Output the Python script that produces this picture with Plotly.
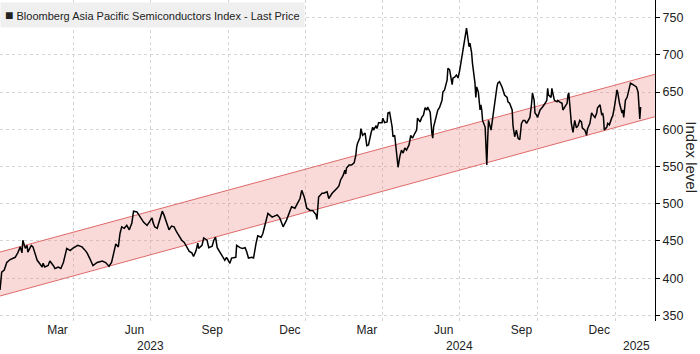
import plotly.graph_objects as go

# ---- data ----
price_dates = [
    "2023-01-04", "2023-01-06", "2023-01-09", "2023-01-12", "2023-01-16", "2023-01-22", "2023-01-25",
    "2023-01-28", "2023-01-30", "2023-01-31", "2023-02-03", "2023-02-05", "2023-02-06", "2023-02-10",
    "2023-02-12", "2023-02-14", "2023-02-17", "2023-02-19", "2023-02-23", "2023-02-24", "2023-02-26",
    "2023-03-02", "2023-03-04", "2023-03-08", "2023-03-10", "2023-03-14", "2023-03-17", "2023-03-20",
    "2023-03-22", "2023-03-24", "2023-03-28", "2023-03-31", "2023-04-06", "2023-04-11", "2023-04-15",
    "2023-04-17", "2023-04-20", "2023-04-24", "2023-04-29", "2023-05-05", "2023-05-09", "2023-05-13",
    "2023-05-16", "2023-05-19", "2023-05-21", "2023-05-24", "2023-05-26", "2023-05-28", "2023-05-31",
    "2023-06-03", "2023-06-06", "2023-06-09", "2023-06-11", "2023-06-15", "2023-06-17", "2023-06-21",
    "2023-06-23", "2023-06-27", "2023-06-29", "2023-07-03", "2023-07-04", "2023-07-06", "2023-07-09",
    "2023-07-11", "2023-07-15", "2023-07-17", "2023-07-20", "2023-07-23", "2023-07-26", "2023-07-29",
    "2023-08-01", "2023-08-04", "2023-08-07", "2023-08-10", "2023-08-13", "2023-08-16", "2023-08-19",
    "2023-08-21", "2023-08-24", "2023-08-26", "2023-08-27", "2023-08-31", "2023-09-02", "2023-09-06",
    "2023-09-08", "2023-09-12", "2023-09-14", "2023-09-16", "2023-09-18", "2023-09-21", "2023-09-25",
    "2023-09-27", "2023-09-29", "2023-10-03", "2023-10-05", "2023-10-08", "2023-10-10", "2023-10-11",
    "2023-10-15", "2023-10-18", "2023-10-21", "2023-10-23", "2023-10-25", "2023-10-29", "2023-10-31",
    "2023-11-03", "2023-11-05", "2023-11-09", "2023-11-11", "2023-11-13", "2023-11-17", "2023-11-22",
    "2023-11-28", "2023-12-01", "2023-12-05", "2023-12-09", "2023-12-13", "2023-12-15", "2023-12-19",
    "2023-12-21", "2023-12-25", "2023-12-27", "2023-12-30", "2024-01-02", "2024-01-06", "2024-01-09",
    "2024-01-13", "2024-01-14", "2024-01-16", "2024-01-20", "2024-01-22", "2024-01-26", "2024-01-28",
    "2024-02-01", "2024-02-03", "2024-02-07", "2024-02-09", "2024-02-11", "2024-02-14", "2024-02-16",
    "2024-02-17", "2024-02-18", "2024-02-21", "2024-02-24", "2024-02-27", "2024-02-29", "2024-03-01",
    "2024-03-02", "2024-03-05", "2024-03-06", "2024-03-08", "2024-03-11", "2024-03-13", "2024-03-15",
    "2024-03-18", "2024-03-20", "2024-03-21", "2024-03-24", "2024-03-25", "2024-03-27", "2024-03-31",
    "2024-04-01", "2024-04-03", "2024-04-06", "2024-04-07", "2024-04-09", "2024-04-12", "2024-04-13",
    "2024-04-15", "2024-04-17", "2024-04-19", "2024-04-21", "2024-04-23", "2024-04-25", "2024-04-27",
    "2024-04-29", "2024-05-02", "2024-05-04", "2024-05-06", "2024-05-09", "2024-05-11", "2024-05-12",
    "2024-05-15", "2024-05-17", "2024-05-19", "2024-05-21", "2024-05-23", "2024-05-24", "2024-05-27",
    "2024-05-29", "2024-05-30", "2024-05-31", "2024-06-03", "2024-06-05", "2024-06-07", "2024-06-10",
    "2024-06-11", "2024-06-13", "2024-06-16", "2024-06-17", "2024-06-19", "2024-06-22", "2024-06-23",
    "2024-06-25", "2024-06-27", "2024-06-29", "2024-07-01", "2024-07-03", "2024-07-05", "2024-07-07",
    "2024-07-08", "2024-07-09", "2024-07-12", "2024-07-13", "2024-07-15", "2024-07-16", "2024-07-19",
    "2024-07-20", "2024-07-21", "2024-07-23", "2024-07-25", "2024-07-26", "2024-07-27", "2024-07-28",
    "2024-07-31", "2024-08-01", "2024-08-02", "2024-08-03", "2024-08-04", "2024-08-07", "2024-08-08",
    "2024-08-09", "2024-08-11", "2024-08-14", "2024-08-15", "2024-08-17", "2024-08-20", "2024-08-21",
    "2024-08-23", "2024-08-26", "2024-08-27", "2024-08-29", "2024-09-01", "2024-09-02", "2024-09-03",
    "2024-09-04", "2024-09-06", "2024-09-08", "2024-09-10", "2024-09-12", "2024-09-14", "2024-09-16",
    "2024-09-18", "2024-09-20", "2024-09-22", "2024-09-24", "2024-09-25", "2024-09-27", "2024-09-28",
    "2024-09-30", "2024-10-01", "2024-10-04", "2024-10-06", "2024-10-07", "2024-10-10", "2024-10-12",
    "2024-10-13", "2024-10-14", "2024-10-17", "2024-10-18", "2024-10-19", "2024-10-21", "2024-10-24",
    "2024-10-25", "2024-10-27", "2024-10-30", "2024-10-31", "2024-11-02", "2024-11-05", "2024-11-06",
    "2024-11-07", "2024-11-09", "2024-11-10", "2024-11-12", "2024-11-14", "2024-11-16", "2024-11-18",
    "2024-11-20", "2024-11-22", "2024-11-23", "2024-11-26", "2024-11-28", "2024-11-29", "2024-12-02",
    "2024-12-04", "2024-12-05", "2024-12-08", "2024-12-10", "2024-12-11", "2024-12-14", "2024-12-16",
    "2024-12-17", "2024-12-18", "2024-12-19", "2024-12-22", "2024-12-23", "2024-12-25", "2024-12-28",
    "2024-12-29", "2024-12-31", "2025-01-03", "2025-01-04", "2025-01-06", "2025-01-09", "2025-01-10",
    "2025-01-11", "2025-01-13", "2025-01-15", "2025-01-17", "2025-01-19", "2025-01-22", "2025-01-24",
    "2025-01-26", "2025-01-28", "2025-01-29", "2025-01-30", "2025-01-31",
]
price_values = [
    384, 408, 411, 421, 425, 428, 434,
    442, 434, 451, 440, 444, 435, 444,
    442, 434, 424, 421, 415, 420, 415,
    417, 423, 417, 413, 415, 413, 421,
    431, 440, 437, 440, 444, 442, 437,
    434, 427, 417, 421, 423, 421, 416,
    421, 437, 446, 442, 460, 469, 467,
    471, 465, 474, 490, 489, 485, 478,
    475, 471, 474, 481, 475, 469, 467,
    475, 490, 485, 474, 465, 470, 469,
    462, 457, 451, 448, 441, 436, 434,
    429, 437, 447, 440, 444, 454, 451,
    441, 443, 451, 455, 441, 435, 427,
    424, 428, 420, 427, 428, 428, 444,
    441, 440, 441, 435, 427, 428, 427,
    447, 457, 455, 460, 469, 487, 482,
    485, 481, 469, 478, 491, 496, 494,
    498, 507, 518, 509, 494, 491, 491,
    485, 479, 509, 514, 514, 516, 507,
    514, 516, 521, 524, 532, 538, 545,
    540, 548, 552, 552, 555, 565, 576,
    581, 589, 601, 592, 595, 578, 579,
    595, 603, 599, 605, 601, 609, 609,
    615, 609, 610, 622, 623, 603, 590,
    592, 568, 549, 563, 572, 568, 575,
    572, 579, 592, 588, 595, 599, 615,
    610, 616, 619, 629, 626, 630, 623,
    595, 588, 603, 616, 626, 629, 639,
    650, 653, 666, 682, 680, 660, 669,
    670, 673, 669, 680, 693, 711, 720,
    727, 736, 711, 716, 703, 689, 662,
    643, 657, 650, 626, 633, 626, 612,
    603, 572, 552, 586, 612, 599, 608,
    619, 635, 657, 662, 664, 657, 653,
    646, 643, 637, 635, 626, 605, 592,
    590, 599, 588, 586, 608, 612, 612,
    608, 612, 616, 635, 649, 639, 622,
    619, 616, 626, 628, 630, 635, 639,
    655, 646, 643, 655, 649, 639, 637,
    639, 637, 635, 626, 630, 635, 646,
    649, 622, 608, 596, 612, 602, 605,
    612, 610, 602, 599, 592, 600, 608,
    622, 620, 616, 622, 629, 633, 619,
    622, 616, 599, 603, 608, 606, 616,
    618, 630, 653, 649, 635, 622, 626,
    616, 639, 643, 655, 662, 660, 658,
    657, 650, 626, 614, 630,
]

channel_dates = ["2023-01-04", "2025-02-17"]
channel_upper = [435, 674]
channel_lower = [376, 617]

y_tick_values = [350, 400, 450, 500, 550, 600, 650, 700, 750]
x_grid_dates = ["2023-04-01", "2023-07-01", "2023-10-01", "2024-01-01",
                "2024-04-01", "2024-07-01", "2024-10-01", "2025-01-01"]
x_tick_labels = ["Mar", "Jun", "Sep", "Dec", "Mar", "Jun", "Sep", "Dec"]
year_label_dates = ["2023-07-01", "2024-07-01", "2025-01-26"]
year_labels = ["2023", "2024", "2025"]

legend_text = "Bloomberg Asia Pacific Semiconductors Index - Last Price"
y_title = "Index level"

FONT = "Liberation Sans, Arial, sans-serif"
CH_LINE = "#e06a6a"
CH_FILL = "rgba(238, 130, 130, 0.30)"

fig = go.Figure()
fig.add_trace(go.Scatter(x=channel_dates, y=channel_lower, mode="lines",
                         line=dict(color=CH_LINE, width=1), hoverinfo="skip",
                         showlegend=False))
fig.add_trace(go.Scatter(x=channel_dates, y=channel_upper, mode="lines",
                         line=dict(color=CH_LINE, width=1), fill="tonexty",
                         fillcolor=CH_FILL, hoverinfo="skip", showlegend=False))
fig.add_trace(go.Scatter(x=price_dates, y=price_values, mode="lines",
                         line=dict(color="#000000", width=1.5),
                         name=legend_text, showlegend=False))

fig.update_layout(
    width=700, height=354,
    margin=dict(l=0, r=45, t=0, b=33),
    paper_bgcolor="white", plot_bgcolor="white",
    font=dict(family=FONT, size=12, color="#222222"),
    xaxis=dict(
        type="date",
        range=["2023-01-04", "2025-02-17"],
        tickmode="array", tickvals=x_grid_dates, ticktext=x_tick_labels,
        ticklabelshift=-16,
        showgrid=True, gridcolor="#d4d4d4", griddash="dot", gridwidth=1,
        showline=False, ticks="", zeroline=False,
        tickfont=dict(family=FONT, size=12, color="#222222"),
    ),
    yaxis=dict(
        side="right",
        range=[342.4, 773.8],
        tickmode="array", tickvals=y_tick_values,
        showgrid=True, gridcolor="#d4d4d4", griddash="dot", gridwidth=1,
        showline=True, linecolor="#000000", linewidth=1,
        ticks="outside", ticklen=4, tickcolor="#000000",
        zeroline=False,
        tickfont=dict(family=FONT, size=12.5, color="#222222"),
    ),
)

annotations = [
    dict(text="<span style='font-size:14px'>■</span> " + legend_text,
         xref="paper", yref="paper", x=0, y=1,
         xanchor="left", yanchor="top", yshift=-2, showarrow=False,
         bgcolor="#efefef", borderpad=4,
         font=dict(family=FONT, size=11, color="#222222")),
    dict(text=y_title, xref="paper", yref="paper", x=1, xshift=37, y=0.51,
         xanchor="center", yanchor="middle", textangle=90, showarrow=False,
         font=dict(family=FONT, size=15, color="#222222")),
]
for d, t in zip(year_label_dates, year_labels):
    annotations.append(dict(text=t, xref="x", yref="paper", x=d, y=0,
                            xanchor="center", yanchor="top", yshift=-16,
                            showarrow=False,
                            font=dict(family=FONT, size=12, color="#222222")))
fig.update_layout(annotations=annotations)

fig.write_html("out.html")
